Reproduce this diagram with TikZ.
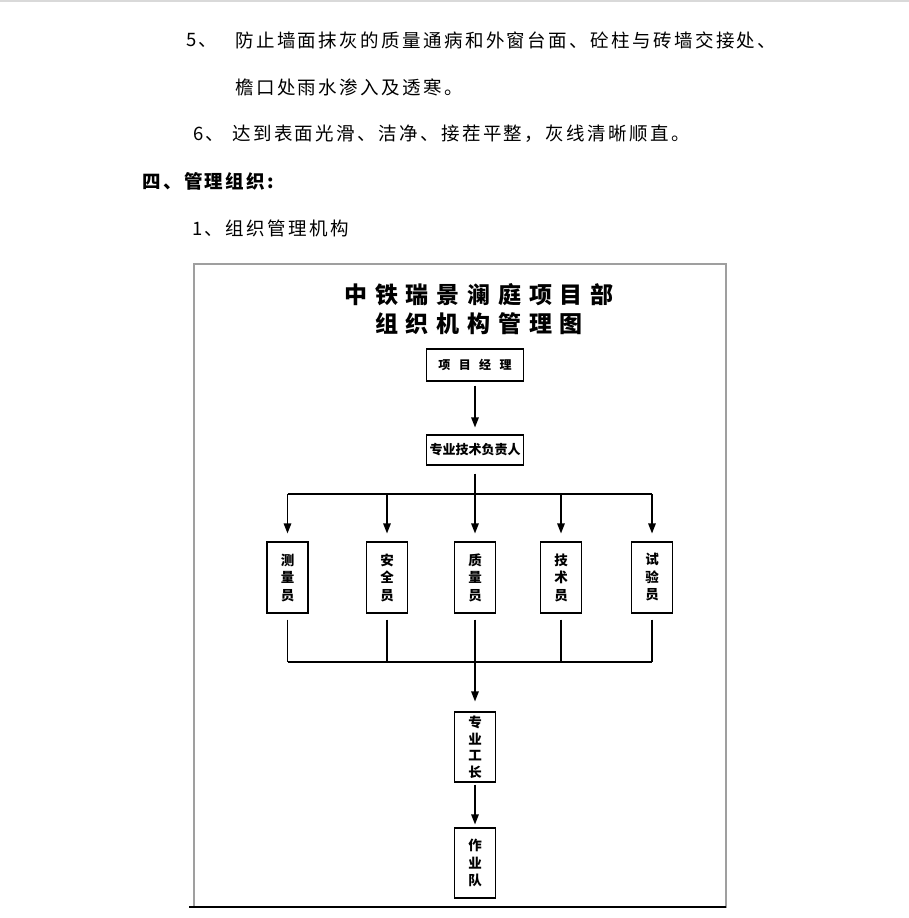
\documentclass[tikz,border=0pt]{standalone}
\usepackage{fontspec}
\usetikzlibrary{arrows.meta}
\newfontfamily\bodyfont[LetterSpace=13]{Noto Sans CJK SC}
\newfontfamily\titlefont[LetterSpace=34]{Noto Sans CJK SC}
\newfontfamily\boxfont{Noto Sans CJK SC}
\newfontfamily\widefont[LetterSpace=70]{Noto Sans CJK SC}

\tikzset{
  textline/.style={anchor=west, inner sep=0pt, font=\bodyfont\fontsize{18.5}{18.5}\selectfont},
  titleline/.style={inner sep=0pt, font=\titlefont\bfseries\fontsize{23}{23}\selectfont},
  chartbox/.style={draw, line width=1.1pt, inner sep=0pt, align=center},
  rolebox/.style={chartbox, minimum width=41pt, minimum height=71pt,
    font=\boxfont\bfseries\fontsize{13.5}{17.5}\selectfont},
  link/.style={line width=1.3pt},
  arrowlink/.style={link, -{Triangle[length=10pt,width=7.5pt]}},
}

\begin{document}
\begin{tikzpicture}[x=1pt,y=-1pt]
    \useasboundingbox (0,0) rectangle (909,918);

    % Page rule at the top
    \draw[gray!30, line width=1.5pt] (0,1) -- (909,1);

    % 1. Text above the chart
    \node[textline] (n5) at (186,40) {5、};
    \node[textline] (l1) at (235,40) {防止墙面抹灰的质量通病和外窗台面、砼柱与砖墙交接处、};
    \node[textline] (l2) at (235,87) {檐口处雨水渗入及透寒。};
    \node[textline] (n6) at (193,134) {6、};
    \node[textline] (l3) at (232,134) {达到表面光滑、洁净、接茬平整，灰线清晰顺直。};
    \node[textline, font=\bodyfont\bfseries\fontsize{18.5}{18.5}\selectfont] (head) at (142,181) {四、管理组织:};
    \node[textline] (sub) at (192,228) {1、组织管理机构};

    % 2. Frame of the chart
    \draw[gray!75, line width=1.6pt] (194,264) rectangle (726,907);
    \draw[line width=1.3pt] (189,907) -- (726,907);

    % 3. Title
    \node[titleline] (title1) at (479,295) {中铁瑞景澜庭项目部};
    \node[titleline] (title2) at (479,324) {组织机构管理图};

    % 4. Boxes
    \node[chartbox, minimum width=97pt, minimum height=32pt,
      font=\widefont\bfseries\fontsize{12}{12}\selectfont] (pm) at (475,365) {项目经理};
    \node[chartbox, minimum width=97pt, minimum height=30pt,
      font=\boxfont\bfseries\fontsize{13}{13}\selectfont] (tech) at (475,450) {专业技术负责人};
    \foreach \name/\x/\txt in {b1/287.5/{测\\量\\员}, b2/387/{安\\全\\员},
        b3/475/{质\\量\\员}, b4/561/{技\\术\\员}, b5/652/{试\\验\\员}}
      \node[rolebox] (\name) at (\x,577.5) {\txt};
    \node[rolebox, minimum height=70pt, font=\boxfont\bfseries\fontsize{13.5}{16.5}\selectfont]
      (foreman) at (475,747) {专\\业\\工\\长};
    \node[rolebox, minimum height=70pt] (team) at (475,863) {作\\业\\队};

    % 5. Connectors
    \coordinate (barT) at (475,494);
    \coordinate (barB) at (475,662);
    \draw[arrowlink, shorten <=4pt, shorten >=7pt] (pm) -- (tech);
    \draw[link, shorten <=8pt] (tech) -- (barT);
    \draw[link] (b1 |- barT) -- (b5 |- barT);
    \foreach \i in {1,...,5} {
      \draw[arrowlink, shorten >=8pt] (b\i |- barT) -- (b\i);
      \draw[link, shorten <=6pt] (b\i) -- (b\i |- barB);
    }
    \draw[link] (b1 |- barB) -- (b5 |- barB);
    \draw[arrowlink, shorten >=10pt] (barB) -- (foreman);
    \draw[arrowlink, shorten <=2pt, shorten >=3pt] (foreman) -- (team);

\end{tikzpicture}
\end{document}
